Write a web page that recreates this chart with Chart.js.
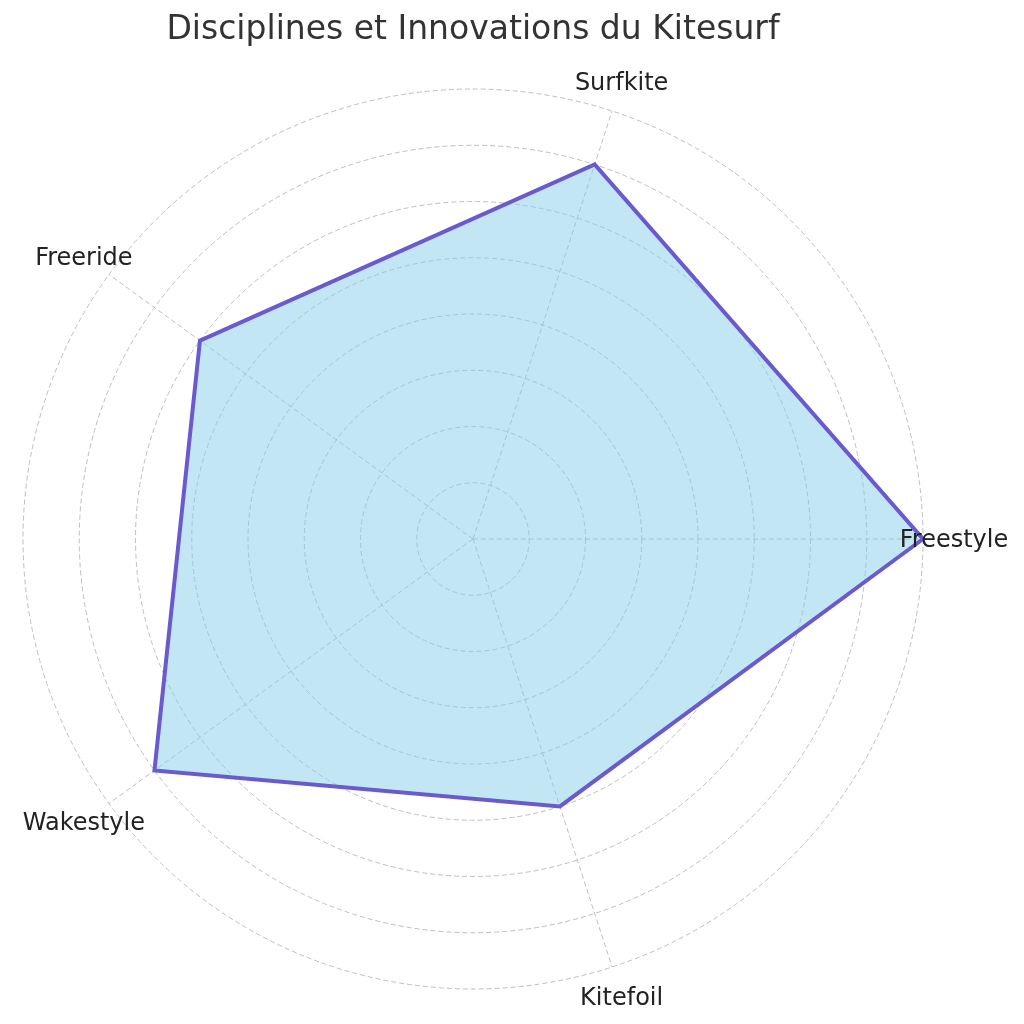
<!DOCTYPE html>
<html>
<head>
<meta charset="utf-8">
<script src="https://cdn.jsdelivr.net/npm/chart.js@4/dist/chart.umd.min.js"></script>
<style>
  html, body { margin: 0; padding: 0; background: #fff; }
  #wrap { width: 1024px; height: 1024px; }
</style>
</head>
<body>
<div id="wrap"><canvas id="c"></canvas></div>
<script>
// disciplines, counter-clockwise from the right as in the reference
const categories = ['Freestyle', 'Surfkite', 'Freeride', 'Wakestyle', 'Kitefoil']
const scores = [8, 7, 6, 7, 5]
const rMax = 8

// chart.js goes clockwise, so walk the list backwards after the first one
const order = [0, 4, 3, 2, 1]
const labels = order.map(i => categories[i])
const values = order.map(i => scores[i])

// draw the category names centred just outside the outer ring
const centredLabels = {
    id: 'centredLabels',
    afterDraw(chart) {
        const scale = chart.scales.r
        const ctx = chart.ctx
        ctx.save()
        ctx.font = '24px "DejaVu Sans"'
        ctx.fillStyle = '#222'
        ctx.textAlign = 'center'
        ctx.textBaseline = 'middle'
        labels.forEach((name, i) => {
            const p = scale.getPointPosition(i, scale.drawingArea + 31)
            ctx.fillText(name, p.x, p.y + 2)
        })
        ctx.restore()
    }
}

const gridStyle = { color: 'rgba(170,170,170,0.75)', lineWidth: 1 }

new Chart(document.getElementById('c'), {
    type: 'radar',
    data: {
        labels: labels,
        datasets: [{
            label: 'Kitesurf',
            data: values,
            borderColor: '#6a5acd',
            backgroundColor: 'rgba(135,206,235,0.5)',
            borderWidth: 4,
            borderJoinStyle: 'miter',
            pointRadius: 0,
            pointHoverRadius: 0,
            fill: true
        }]
    },
    options: {
        responsive: true,
        maintainAspectRatio: false,
        animation: false,
        layout: { padding: { left: 23, right: 101, top: 0, bottom: 34 } },
        plugins: {
            legend: { display: false },
            tooltip: { enabled: false },
            title: {
                display: true,
                text: 'Disciplines et Innovations du Kitesurf',
                color: '#333',
                font: { family: '"DejaVu Sans"', size: 33, weight: 'normal', lineHeight: 1.2 },
                padding: { top: 11, bottom: 39 }
            }
        },
        scales: {
            r: {
                min: 0,
                max: rMax,
                startAngle: 90,
                ticks: { stepSize: 1, display: false },
                pointLabels: { display: false },
                grid: { circular: true, color: gridStyle.color, lineWidth: gridStyle.lineWidth },
                border: { dash: [5, 3] },
                angleLines: { color: gridStyle.color, lineWidth: gridStyle.lineWidth, borderDash: [5, 3] }
            }
        }
    },
    plugins: [centredLabels]
})
</script>
</body>
</html>
